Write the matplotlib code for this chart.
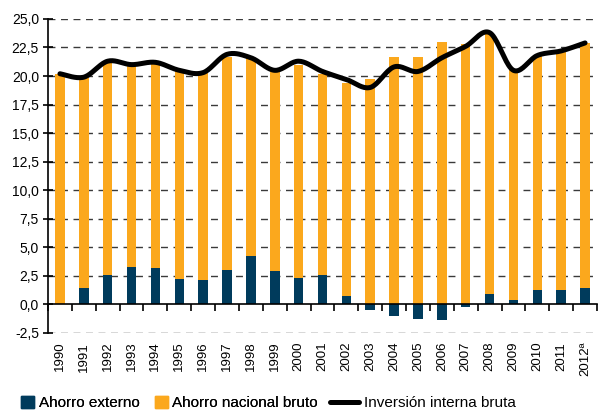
import matplotlib
matplotlib.use('Agg')
import matplotlib.pyplot as plt
import numpy as np
from matplotlib.patches import Patch
from matplotlib.lines import Line2D

plt.rcParams['font.family'] = ['Liberation Sans', 'DejaVu Sans']

years = ['1990', '1991', '1992', '1993', '1994', '1995', '1996', '1997', '1998',
         '1999', '2000', '2001', '2002', '2003', '2004', '2005', '2006', '2007',
         '2008', '2009', '2010', '2011', '2012ª']
ahorro_externo = [0.0, 1.4, 2.6, 3.3, 3.2, 2.2, 2.1, 3.0, 4.2, 2.9, 2.3, 2.6,
                  0.7, -0.5, -1.0, -1.3, -1.4, -0.2, 0.9, 0.4, 1.3, 1.3, 1.4]
ahorro_nacional = [20.2, 18.4, 18.5, 17.7, 18.0, 18.2, 18.3, 18.7, 17.4, 17.5,
                   18.7, 17.6, 18.7, 19.7, 21.7, 21.7, 23.0, 22.8, 22.8, 20.1,
                   20.5, 21.0, 21.5]
inversion = [20.2, 19.9, 21.3, 21.0, 21.2, 20.5, 20.3, 21.9, 21.6, 20.5, 21.3,
             20.4, 19.7, 19.0, 20.8, 20.4, 21.6, 22.6, 23.8, 20.5, 21.8, 22.2, 22.9]

c_ext = '#003B5C'
c_nac = '#FBA81D'


def smooth(x, y, n=20):
    # Catmull-Rom spline through the points (like a spreadsheet "smoothed line")
    x = np.asarray(x, float)
    y = np.asarray(y, float)
    px = np.concatenate([[x[0]], x, [x[-1]]])
    py = np.concatenate([[y[0]], y, [y[-1]]])
    xs, ys = [], []
    t = np.linspace(0, 1, n, endpoint=False)
    for i in range(1, len(px) - 2):
        for p, out in ((px, xs), (py, ys)):
            p0, p1, p2, p3 = p[i - 1], p[i], p[i + 1], p[i + 2]
            out.extend(0.5 * (2 * p1 + (-p0 + p2) * t
                              + (2 * p0 - 5 * p1 + 4 * p2 - p3) * t ** 2
                              + (-p0 + 3 * p1 - 3 * p2 + p3) * t ** 3))
    xs.append(x[-1])
    ys.append(y[-1])
    return np.array(xs), np.array(ys)


fig = plt.figure(figsize=(6, 4.12), dpi=100)
ax = fig.add_axes([0.08, 0.192, 0.915, 0.762])

x = np.arange(len(years))
ext = np.array(ahorro_externo)
nac = np.array(ahorro_nacional)

ax.bar(x, ext, width=0.4, color=c_ext, zorder=2)
ax.bar(x, nac, width=0.4, bottom=np.maximum(ext, 0), color=c_nac, zorder=2)

sx, sy = smooth(x, inversion)
ax.plot(sx, sy, color='black', lw=3.6, solid_capstyle='round', zorder=3)

ax.set_xlim(-0.5, len(years) - 0.5)
ax.set_ylim(-2.5, 25)

yt = np.arange(-2.5, 25.01, 2.5)
ax.set_yticks(yt)
ax.set_yticklabels([f'{v:.1f}'.replace('.', ',') for v in yt], fontsize=10)
for v in yt:
    if abs(v) > 1e-9:
        ax.axhline(v, color='#3a3a3a', lw=1.0, ls=(0, (5, 4)), zorder=1)

ax.spines['top'].set_visible(False)
ax.spines['right'].set_visible(False)
ax.spines['left'].set_linewidth(1.2)
ax.spines['bottom'].set_linewidth(1.2)
ax.spines['bottom'].set_position(('data', 0))
ax.spines['bottom'].set_zorder(4)

ax.set_xticks(x)
ax.set_xticklabels(years, rotation=90, fontsize=9.5)
ax.set_xticks(np.arange(-0.5, len(years)), minor=True)
ax.tick_params(axis='x', which='major', length=0, pad=27)
ax.tick_params(axis='x', which='minor', length=5, width=1.2, direction='out')
ax.tick_params(axis='y', length=7, width=1.2, direction='inout', pad=3)

h1 = [Patch(color=c_ext), Patch(color=c_nac)]
leg1 = fig.legend(h1, ['Ahorro externo', 'Ahorro nacional bruto'], ncol=2,
                  loc='center left', bbox_to_anchor=(0.035, 0.022),
                  frameon=False, fontsize=11, handlelength=0.85,
                  handleheight=0.85, handletextpad=0.3, columnspacing=1.0,
                  borderpad=0, borderaxespad=0)
fig.add_artist(leg1)
h2 = [Line2D([], [], color='black', lw=3.6, solid_capstyle='round')]
fig.legend(h2, ['Inversión interna bruta'], loc='center left',
           bbox_to_anchor=(0.55, 0.022), frameon=False, fontsize=11,
           handlelength=1.9, handletextpad=0.3, borderpad=0, borderaxespad=0)

fig.savefig('out.png', dpi=100)
